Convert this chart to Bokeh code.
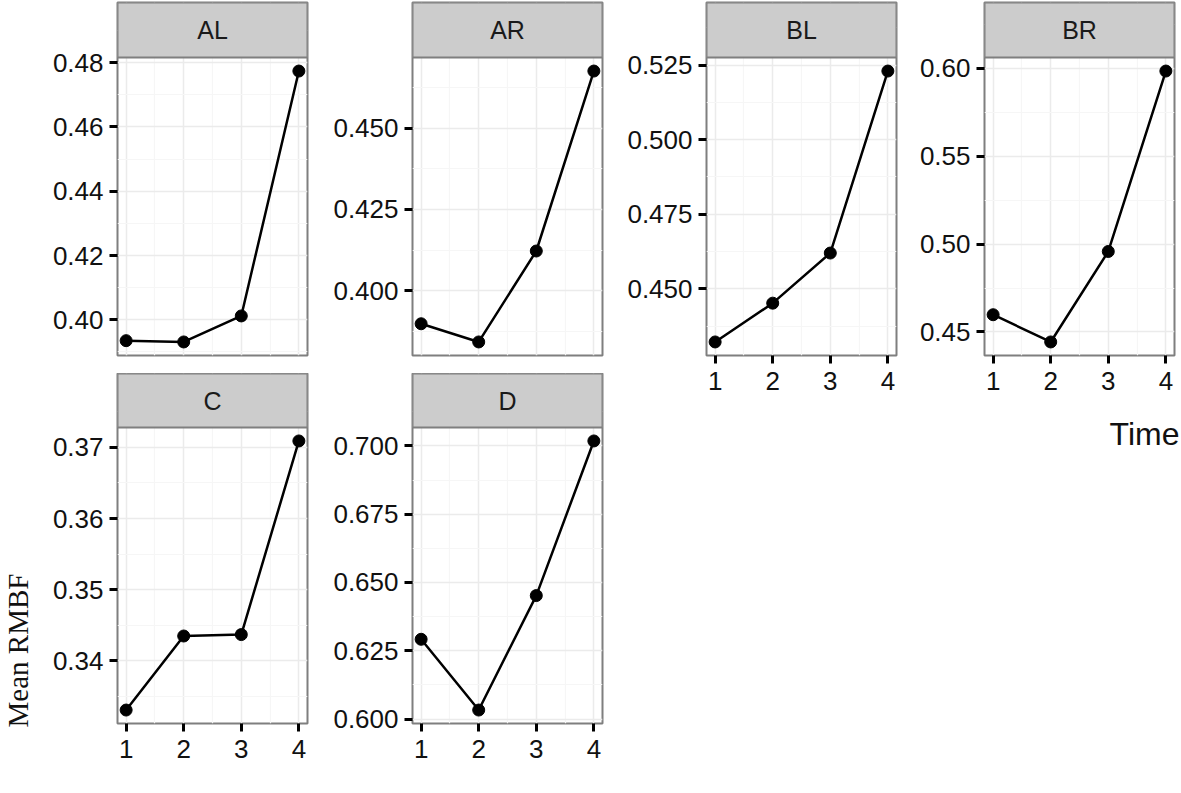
import math
from bokeh.plotting import figure
from bokeh.layouts import row, column
from bokeh.models import FixedTicker, BoxAnnotation, Label, NumeralTickFormatter, Range1d, Title
from bokeh.embed import file_html
from bokeh.resources import INLINE

# ---------------- data ----------------
time = [1, 2, 3, 4]
x_minor = [1.5, 2.5, 3.5]

AL = [0.3935, 0.3931, 0.4012, 0.4774]
AR = [0.3898, 0.3842, 0.4122, 0.4676]
BL = [0.4322, 0.4452, 0.4620, 0.5230]
BR = [0.4598, 0.4443, 0.4958, 0.5985]
C = [0.3331, 0.3435, 0.3437, 0.3709]
D = [0.6292, 0.6033, 0.6452, 0.7018]

AL_ticks = [0.40, 0.42, 0.44, 0.46, 0.48]
AR_ticks = [0.400, 0.425, 0.450]
BL_ticks = [0.450, 0.475, 0.500, 0.525]
BR_ticks = [0.45, 0.50, 0.55, 0.60]
C_ticks = [0.34, 0.35, 0.36, 0.37]
D_ticks = [0.600, 0.625, 0.650, 0.675, 0.700]

AL_fmt, AR_fmt, BL_fmt, BR_fmt, C_fmt, D_fmt = "0.00", "0.000", "0.000", "0.00", "0.00", "0.000"

y_title = "Mean RMBF"
x_title = "Time"

# ---------------- style ----------------
FW = 190
SANS = "Liberation Sans"
SERIF = "Liberation Serif"
BORDER = "#7F7F7F"


def minors_of(ticks):
    step = ticks[1] - ticks[0]
    return [ticks[0] - step / 2] + [t + step / 2 for t in ticks]


def panel(name, vals, ticks, fmt, left, right, top, strip_h, panel_h, bottom, show_x):
    lo_x, hi_x = min(time), max(time)
    ex = 0.05 * (hi_x - lo_x)
    lo, hi = min(vals), max(vals)
    ey = 0.05 * (hi - lo)
    y0, y1 = lo - ey, hi + ey
    y_top = y1 + strip_h * (y1 - y0) / panel_h   # strip sits inside frame, above the panel
    p = figure(output_backend="svg", toolbar_location=None, tools="",
               frame_width=FW, frame_height=panel_h + strip_h,
               min_border_left=left, min_border_right=right,
               min_border_top=top, min_border_bottom=bottom,
               x_range=Range1d(lo_x - ex, hi_x + ex),
               y_range=Range1d(y0, y_top))
    p.background_fill_color = "white"
    p.border_fill_color = "white"
    p.outline_line_color = BORDER
    p.outline_line_width = 2

    p.xgrid.ticker = FixedTicker(ticks=time, minor_ticks=x_minor)
    p.ygrid.ticker = FixedTicker(ticks=ticks, minor_ticks=minors_of(ticks))
    for g in (p.xgrid, p.ygrid):
        g.grid_line_color = "#EBEBEB"
        g.grid_line_width = 1.5
        g.minor_grid_line_color = "#F6F6F6"
        g.minor_grid_line_width = 1.2

    p.yaxis.ticker = FixedTicker(ticks=ticks)
    p.yaxis.formatter = NumeralTickFormatter(format=fmt)
    p.xaxis.ticker = FixedTicker(ticks=time)
    for ax in (p.xaxis, p.yaxis):
        ax.axis_line_color = None
        ax.major_tick_line_color = "black"
        ax.major_tick_line_width = 3
        ax.major_tick_out = 8
        ax.major_tick_in = 0
        ax.minor_tick_line_color = None
        ax.major_label_text_font = SANS
        ax.major_label_text_font_size = "26px"
        ax.major_label_text_color = "#111111"
    p.yaxis.major_label_standoff = 6
    p.xaxis.major_label_standoff = 8
    if not show_x:
        p.xaxis.visible = False

    p.line(time, vals, line_color="black", line_width=2.5)
    p.scatter(time, vals, size=12, fill_color="black", line_color="black")

    strip = BoxAnnotation(bottom=y1, fill_color="#CCCCCC", fill_alpha=1.0,
                          line_color=BORDER, line_width=2, line_alpha=1.0)
    p.add_layout(strip)
    p.add_layout(Label(x=FW / 2, y=panel_h + strip_h / 2, x_units="screen", y_units="screen",
                       text=name, text_align="center", text_baseline="middle",
                       text_font=SANS, text_font_size="25px", text_color="#1A1A1A"))
    return p


YW = 38  # width of the left strip holding the shared y title
p_AL = panel("AL", AL, AL_ticks, AL_fmt, 117 - YW, 11, 2, 55, 298, 18, False)
p_C = panel("C", C, C_ticks, C_fmt, 117 - YW, 11, 0, 54, 296, 45, True)
p_AR = panel("AR", AR, AR_ticks, AR_fmt, 94, 10, 2, 55, 298, 18, False)
p_D = panel("D", D, D_ticks, D_fmt, 94, 10, 0, 54, 296, 45, True)
p_BL = panel("BL", BL, BL_ticks, BL_fmt, 94, 8, 2, 55, 298, 45, True)
p_BR = panel("BR", BR, BR_ticks, BR_fmt, 80, 6, 2, 55, 298, 120, True)

# shared y title, in its own narrow blank figure
p_ylab = figure(output_backend="svg", toolbar_location=None, tools="",
                frame_width=YW, frame_height=766, min_border_top=2,
                min_border_left=0, min_border_right=0, min_border_bottom=0,
                x_axis_location=None, y_axis_location=None,
                x_range=Range1d(0, 1), y_range=Range1d(0, 1))
p_ylab.grid.visible = False
p_ylab.outline_line_color = None
p_ylab.background_fill_color = "white"
p_ylab.border_fill_color = "white"
p_ylab.add_layout(Label(x=17, y=768 - 650, x_units="screen", y_units="screen", text=y_title,
                        angle=math.pi / 2, text_align="center", text_baseline="middle",
                        text_font=SERIF, text_font_size="29px", text_color="#111111"))

p_BR.add_layout(Title(text=x_title, align="right", offset=-5, standoff=43,
                      text_font=SANS, text_font_size="32px", text_font_style="normal",
                      text_color="#111111"), "below")

layout = row(p_ylab, column(p_AL, p_C), column(p_AR, p_D), p_BL, p_BR)

open("out.html", "w").write(file_html(layout, INLINE))
